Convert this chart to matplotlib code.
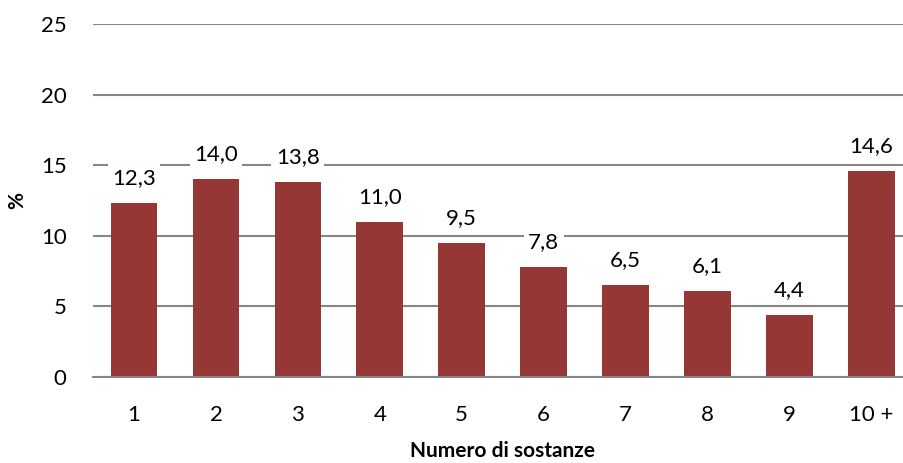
import matplotlib.pyplot as plt

categorie = ["1", "2", "3", "4", "5", "6", "7", "8", "9", "10 +"]
valori = [12.3, 14.0, 13.8, 11.0, 9.5, 7.8, 6.5, 6.1, 4.4, 14.6]
etichette = ["12,3", "14,0", "13,8", "11,0", "9,5", "7,8", "6,5", "6,1", "4,4", "14,6"]

plt.rcParams['font.family'] = ['Lato', 'DejaVu Sans']

fig = plt.figure(figsize=(9.04, 4.63), dpi=100)
ax = fig.add_axes([0.103, 0.186, 0.906, 0.762])

x = list(range(len(categorie)))
ax.bar(x, valori, width=0.57, color="#953735", zorder=2)

for xi, v, lab in zip(x, valori, etichette):
    ax.annotate(lab, (xi, v), xytext=(0, 18), textcoords="offset points",
                ha="center", va="center", fontsize=16, zorder=4,
                bbox=dict(boxstyle="square,pad=0.2", fc="white", ec="none"))

ax.set_ylim(0, 25)
ax.set_xlim(-0.5, len(categorie) - 0.5)
ax.set_yticks(range(0, 26, 5))
ax.set_xticks(x)
ax.set_xticklabels(categorie)
ax.yaxis.grid(True, color="#868686", linewidth=1.5, zorder=0)
ax.set_axisbelow(True)
for s in ["top", "right", "left"]:
    ax.spines[s].set_visible(False)
ax.spines["bottom"].set_color("#868686")
ax.spines["bottom"].set_linewidth(1.5)
ax.tick_params(axis="both", length=0, labelsize=16, pad=20)
ax.tick_params(axis="y", pad=19)

ax.set_ylabel("%", fontsize=15, fontweight="bold", labelpad=10)
ax.set_xlabel("Numero di sostanze", fontsize=15, fontweight="bold", labelpad=12)

fig.savefig("out.png", dpi=100)
